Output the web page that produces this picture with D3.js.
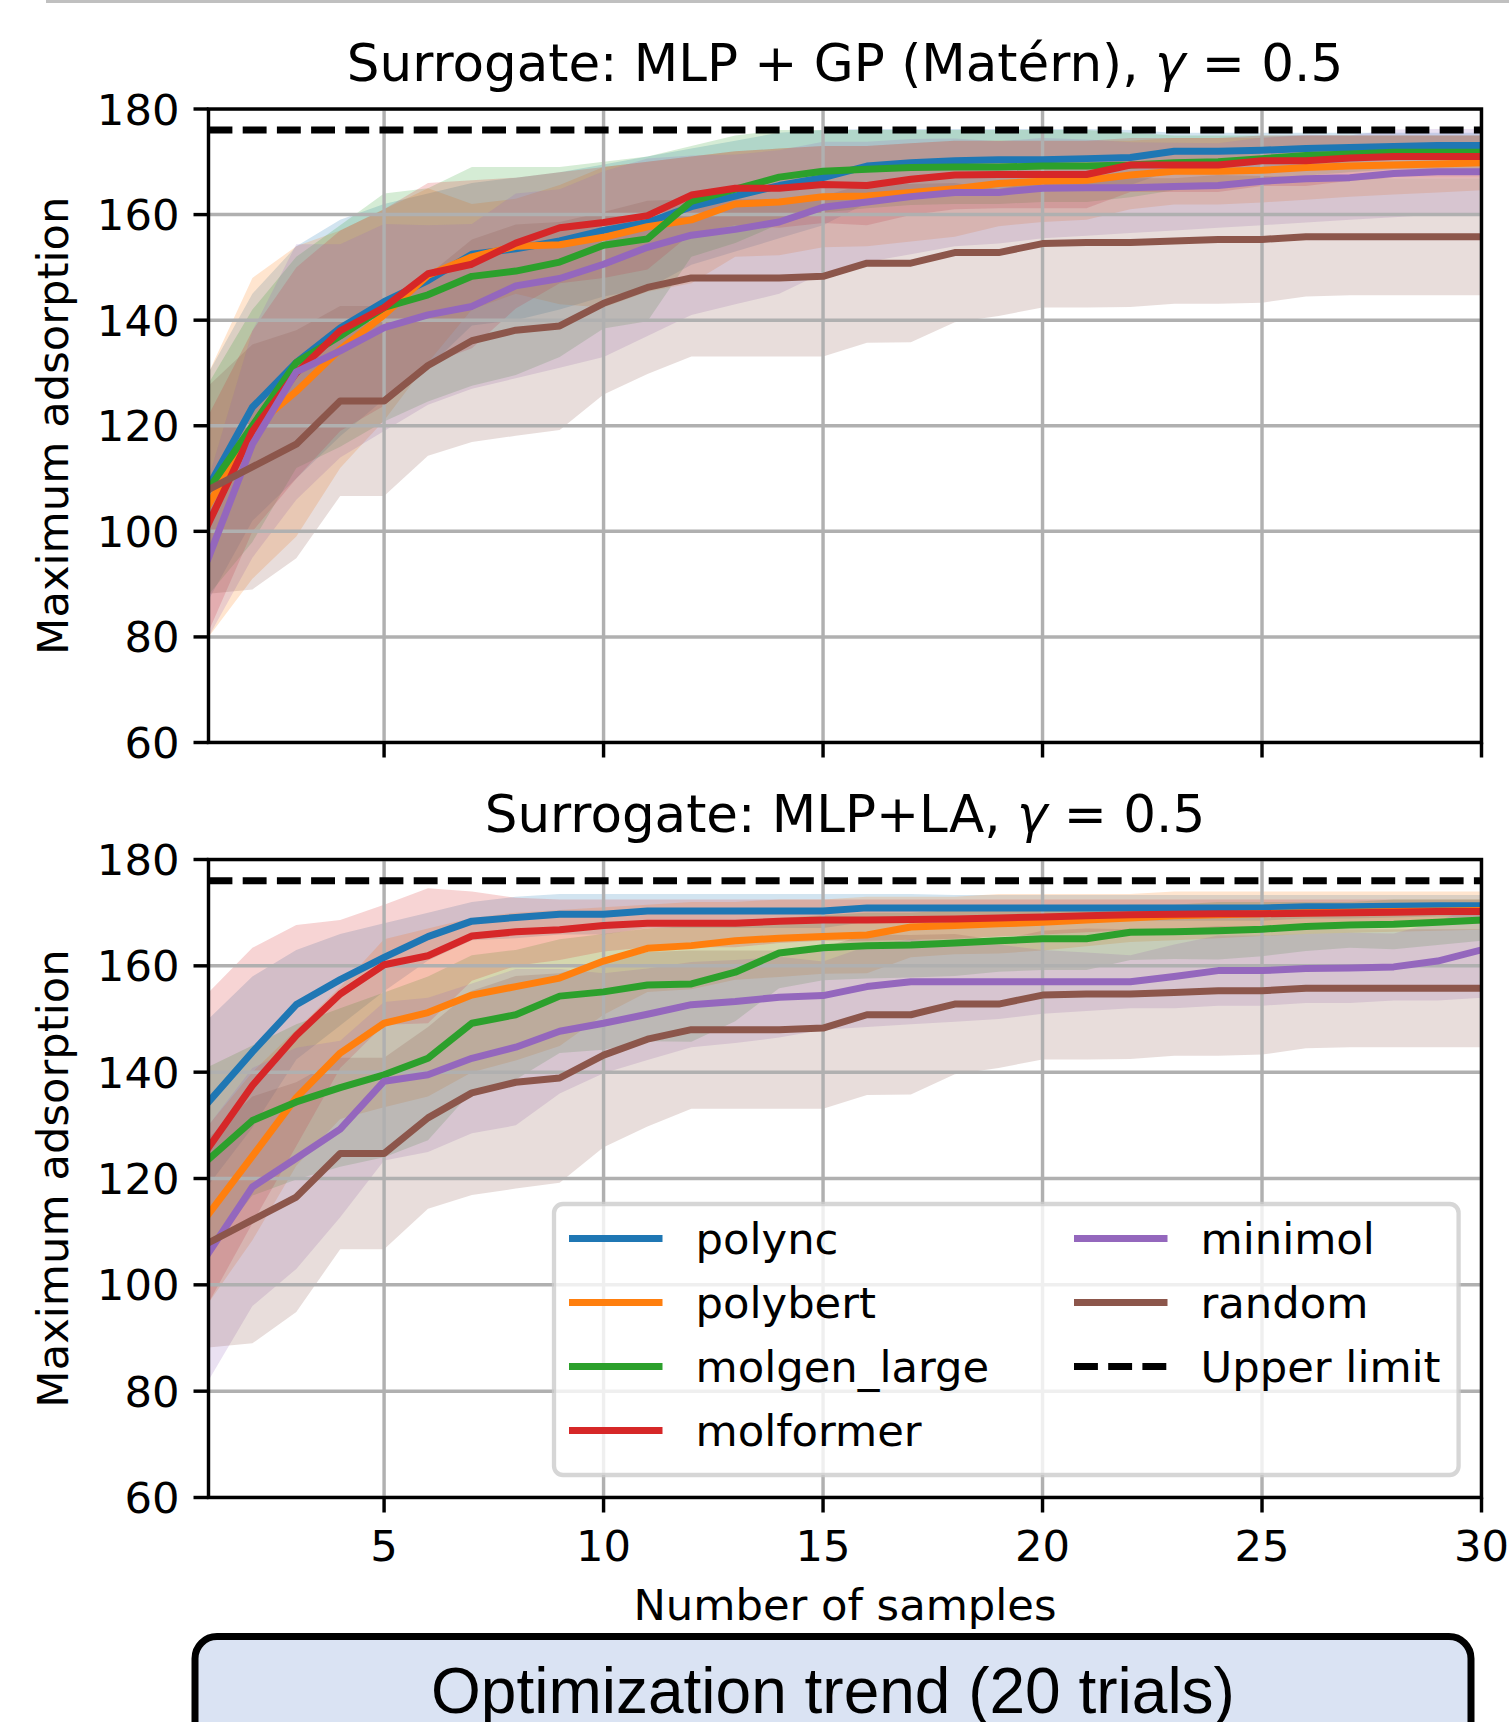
<!DOCTYPE html>
<html><head><meta charset="utf-8">
<script src="https://cdn.jsdelivr.net/npm/d3@7"></script>
<style>body{margin:0;background:#fff}svg{display:block}</style>
</head><body>
<svg id="chart" width="1509" height="1722"></svg>
<script>
// ---------------- data ----------------
const samples = [1,2,3,4,5,6,7,8,9,10,11,12,13,14,15,16,17,18,19,20,21,22,23,24,25,26,27,28,29,30];
const seriesNames = ["polync","polybert","molgen_large","molformer","minimol","random"];
const seriesColors = ["#1f77b4","#ff7f0e","#2ca02c","#d62728","#9467bd","#8c564b"];
const upperLimit = 176;
const yTicks = [60,80,100,120,140,160,180];
const xTicks = [5,10,15,20,25,30];
const panelTitles = ["Surrogate: MLP + GP (Matérn), ", "Surrogate: MLP+LA, "];

// Panel 1: MLP + GP (Matérn)  — mean and shaded band (lo / hi)
const gpPolyncMean = [108.5,123.5,132,138.5,143.5,147.5,152.5,153.5,155,157,158.5,161.5,163.5,165.5,167,169.2,169.8,170.2,170.4,170.4,170.6,170.8,172,172,172.2,172.5,172.7,172.9,173.1,173.1];
const gpPolyncLo = [87,102,110,118,125,131,139,140,142,144.5,146,150.5,153,155.5,158,162.2,163.4,164.2,164.6,164.6,165,165.6,168.5,168.5,168.9,169.5,169.9,170.3,170.7,170.7];
const gpPolyncHi = [130,145,154,159,162,164,166,167,168,169.5,171,172.5,174,175.5,176,176.2,176.2,176.2,176.2,176.2,176.2,176,175.5,175.5,175.5,175.5,175.5,175.5,175.5,175.5];

const gpPolybertMean = [105,119.5,126.5,134.5,141,148.5,152,154,154.3,155.7,157.7,159,162,162.4,163.4,163.5,164.2,164.9,165.9,166.3,166.5,167.5,168.2,168.2,168.4,168.9,169.2,169.4,169.6,169.8];
const gpPolybertLo = [80,91,99,112,121,132,142,145,143,142.4,145.4,147,152,152.3,153.8,154,154.9,155.8,157.8,158.6,159,161,161.9,161.9,162.3,162.8,163.4,163.8,164.2,164.6];
const gpPolybertHi = [130,148,154,157,161,165,162,163,165.6,169,170,171,172,172.5,173,173,173.5,174,174,174,174,174,174.5,174.5,174.5,175,175,175,175,175];

const gpMolgenMean = [108,120,132,137,142.4,144.8,148.3,149.3,151,154.2,155.4,162.5,164.8,167.1,168.2,168.6,168.9,169,169,169.2,169.2,169.4,169.8,170,170.6,171.2,171.5,171.8,171.8,171.8];
const gpMolgenLo = [88,98,112,116,120.8,124.6,127.6,129.6,133,138.4,139.8,152,154.6,158.2,160.4,161.2,161.8,162,162,162.4,162.4,163.3,164.6,165,166.2,167.4,168,168.6,168.6,168.6];
const gpMolgenHi = [128,142,152,158,164,165,169,169,169,170,171,173,175,176,176,176,176,176,176,176,176,175.5,175,175,175,175,175,175,175,175];

const gpMolformerMean = [101.5,119,130,138,142.4,148.8,150.6,154.6,157.5,158.5,159.8,163.7,165,165,165.7,165.5,166.7,167.5,167.6,167.6,167.6,169.4,169.4,169.4,170.2,170.2,170.7,171,171,171];
const gpMolformerLo = [81,100,110,119,123.8,131.6,134.7,142.2,147,148,149.6,156.4,158,157.5,158.4,158,159.9,161,161.2,161.2,161.2,164.3,164.3,164.3,165.4,165.4,166.4,167,167,167];
const gpMolformerHi = [122,138,150,157,161,166,166.5,167,168,169,170,171,172,172.5,173,173,173.5,174,174,174,174,174.5,174.5,174.5,175,175,175,175,175,175];

const gpMinimolMean = [95,116.5,130.2,134.2,138.6,141,142.6,146.5,147.9,150.6,153.8,156.1,157.2,158.6,161.4,162.4,163.4,164.2,164.2,165,165.1,165.1,165.3,165.5,166.3,166.8,167,167.8,168.1,168.1];
const gpMinimolLo = [80,95,106,114,119,124,127,129,131,133,137,141,143,145,149,151,152.5,154,154.5,155.5,156,156.5,157,157.5,158,158.5,159,159.5,160,160];
const gpMinimolHi = [110,138,154.4,154.4,158.2,158,158.2,164,164.8,168.2,170.6,171.2,171.4,172.2,173.8,173.8,174.3,174.4,173.9,174.5,174.2,173.7,173.6,173.5,174.6,175.1,175,176.1,176.2,176.2];

// random baseline (identical in both panels)
const randomMean = [107.9,112.2,116.5,124.7,124.7,131.4,136.1,138.1,138.9,143.2,146.2,148,148,148,148.3,150.8,150.8,152.8,152.8,154.5,154.7,154.7,155,155.3,155.3,155.8,155.8,155.8,155.8,155.8];
const randomLo = [88.2,89,94.9,106.7,106.7,114.3,116.9,118.1,119.2,125.9,129.8,133.1,133.1,133.1,133.1,135.7,135.8,139.6,140.8,142.4,142.4,142.5,143.1,143.1,143.3,144.5,144.7,144.7,144.7,144.7];
const randomHi = [127.6,135.4,138.1,142.7,142.7,148.5,155.3,158.1,158.6,160.5,162.6,162.9,162.9,162.9,163.5,165.9,165.8,166,164.8,166.6,167,166.9,166.9,167.5,167.3,167.1,166.9,166.9,166.9,166.9];

// Panel 2: MLP + LA
const laPolyncMean = [134.4,143.8,152.7,157.4,161.6,165.5,168.4,169.1,169.7,169.7,170.3,170.3,170.3,170.3,170.3,170.9,170.9,170.9,170.9,170.9,170.9,170.9,170.9,170.9,170.9,171.1,171.1,171.2,171.3,171.3];
const laPolyncLo = [118.8,129.6,142.4,148.8,155.2,161,164.8,165.2,165.9,165.9,167.1,167.1,167.1,167.1,167.1,168.3,168.3,168.5,168.5,168.5,168.5,168.5,168.5,168.5,168.5,168.9,168.9,169.1,169.3,169.3];
const laPolyncHi = [150,158,163,166,168,170,172,173,173.5,173.5,173.5,173.5,173.5,173.5,173.5,173.5,173.5,173.3,173.3,173.3,173.3,173.3,173.3,173.3,173.3,173.3,173.3,173.3,173.3,173.3];

const laPolybertMean = [113.3,124.2,135.2,143.6,149.2,151.2,154.5,156.1,157.7,160.9,163.3,163.8,164.7,165.2,165.5,165.8,167.3,167.6,167.9,168.2,168.6,169,169.4,169.6,169.8,170,170.1,170.2,170.3,170.4];
const laPolybertLo = [96.6,108.4,122.4,131.2,133.4,135.4,140,142.2,144.9,150.8,155.1,155.6,157.4,157.9,158.5,158.6,161.6,162.2,162.3,162.9,163.7,164.5,164.8,165.2,165.6,166,166.2,166.4,166.6,166.8];
const laPolybertHi = [130,140,148,156,165,167,169,170,170.5,171,171.5,172,172,172.5,172.5,173,173,173,173.5,173.5,173.5,173.5,174,174,174,174,174,174,174,174];

const laMolgenMean = [123.6,130.9,134.4,137.1,139.5,142.6,149.2,150.8,154.3,155.1,156.4,156.6,158.8,162.4,163.4,163.8,163.9,164.3,164.7,165.1,165.1,166.3,166.4,166.6,166.9,167.4,167.7,167.8,168.2,168.6];
const laMolgenLo = [106.2,116.8,119.8,122.2,124,127.2,136.4,138.6,143.6,144.2,145.8,145.7,149.6,155.8,157.3,157.6,157.8,158.1,158.9,159.2,159.2,161.1,161.3,161.2,161.8,162.8,163.4,163.1,163.9,164.7];
const laMolgenHi = [141,145,149,152,155,158,162,163,165,166,167,167.5,168,169,169.5,170,170,170.5,170.5,171,171,171.5,171.5,172,172,172,172,172.5,172.5,172.5];

const laMolformerMean = [125.8,137.5,146.9,154.7,160.2,161.9,165.6,166.4,166.8,167.6,168,168,168,168.4,168.6,168.6,168.7,168.8,169,169.2,169.4,169.6,169.7,169.8,169.8,169.9,170,170.1,170.2,170.2];
const laMolformerLo = [96.6,111.6,126.1,140.8,148.9,149.2,157.2,160,161.1,162.7,163.5,163.5,163.5,164.3,164.7,164.7,164.9,165.1,165.5,165.9,166.3,166.7,166.9,167.1,167.1,167.3,167.5,167.7,167.9,167.9];
const laMolformerHi = [155,163.4,167.7,168.6,171.5,174.6,174,172.8,172.5,172.5,172.5,172.5,172.5,172.5,172.5,172.5,172.5,172.5,172.5,172.5,172.5,172.5,172.5,172.5,172.5,172.5,172.5,172.5,172.5,172.5];

const laMinimolMean = [106,118.4,123.8,129.3,138.3,139.5,142.6,144.7,147.7,149.2,150.9,152.7,153.3,154.1,154.4,156.1,157,157,157,157,157,157,158,159.1,159.1,159.5,159.6,159.8,160.9,163];
const laMinimolLo = [82,96,103,112.7,123.4,125,128.5,130,136,139.8,142.3,144.7,145.5,146.5,148,148.5,149,149.5,150,151,151.5,152,152,152.5,152.5,153,153,153.5,153.5,154];
const laMinimolHi = [130,140.8,144.6,145.9,153.2,154,156.7,159.4,159.4,158.6,159.5,160.7,161.1,161.7,160.8,163.7,165,164.5,164,163,162.5,162,164,165.7,165.7,166,166.2,166.1,168.3,172];

// ---------------- build ----------------
const panels = [
  { title: panelTitles[0], top: 109, bottom: 742.5, xLabels: false,
    means: [gpPolyncMean, gpPolybertMean, gpMolgenMean, gpMolformerMean, gpMinimolMean, randomMean],
    los:   [gpPolyncLo, gpPolybertLo, gpMolgenLo, gpMolformerLo, gpMinimolLo, randomLo],
    his:   [gpPolyncHi, gpPolybertHi, gpMolgenHi, gpMolformerHi, gpMinimolHi, randomHi] },
  { title: panelTitles[1], top: 859.5, bottom: 1497.5, xLabels: true,
    means: [laPolyncMean, laPolybertMean, laMolgenMean, laMolformerMean, laMinimolMean, randomMean],
    los:   [laPolyncLo, laPolybertLo, laMolgenLo, laMolformerLo, laMinimolLo, randomLo],
    his:   [laPolyncHi, laPolybertHi, laMolgenHi, laMolformerHi, laMinimolHi, randomHi] }
];

const FONT = "'DejaVu Sans', sans-serif";
const LEFT = 208.5, RIGHT = 1481.5;
const LW = 7, SPINE = 3.44, TICK = 15, PAD = 15, FS = 43.3, TFS = 51.5;

const svg = d3.select("#chart");
svg.append("rect").attr("width",1509).attr("height",1722).attr("fill","#fff");
svg.append("rect").attr("x",46).attr("y",0).attr("width",1463).attr("height",3).attr("fill","#c0c0c0");

const x = d3.scaleLinear().domain([1,30]).range([LEFT, RIGHT]);

panels.forEach((p, pi) => {
  const y = d3.scaleLinear().domain([60,180]).range([p.bottom, p.top]);
  const g = svg.append("g");
  const clipId = "clip" + pi;
  svg.append("clipPath").attr("id", clipId).append("rect")
    .attr("x", LEFT).attr("y", p.top).attr("width", RIGHT-LEFT).attr("height", p.bottom-p.top);
  const plot = g.append("g").attr("clip-path", `url(#${clipId})`);

  // bands
  const area = d3.area().x((d,i)=>x(samples[i])).y0(d=>y(d[0])).y1(d=>y(d[1]));
  seriesNames.forEach((n, si) => {
    const pts = p.los[si].map((v,i)=>[v, p.his[si][i]]);
    plot.append("path").attr("d", area(pts)).attr("fill", seriesColors[si]).attr("fill-opacity", 0.2);
  });

  // grid
  xTicks.forEach(t => plot.append("line").attr("x1",x(t)).attr("x2",x(t)).attr("y1",p.top).attr("y2",p.bottom)
    .attr("stroke","#b0b0b0").attr("stroke-width",SPINE));
  yTicks.forEach(t => plot.append("line").attr("x1",LEFT).attr("x2",RIGHT).attr("y1",y(t)).attr("y2",y(t))
    .attr("stroke","#b0b0b0").attr("stroke-width",SPINE));

  // lines
  const line = d3.line().x((d,i)=>x(samples[i])).y(d=>y(d));
  seriesNames.forEach((n, si) => {
    plot.append("path").attr("d", line(p.means[si])).attr("fill","none")
      .attr("stroke", seriesColors[si]).attr("stroke-width", LW)
      .attr("stroke-linejoin","round").attr("stroke-linecap","square");
  });
  // upper limit
  plot.append("line").attr("x1",LEFT).attr("x2",RIGHT).attr("y1",y(upperLimit)).attr("y2",y(upperLimit))
    .attr("stroke","#000").attr("stroke-width",LW).attr("stroke-dasharray","23.9 10.3");

  // spines
  g.append("rect").attr("x",LEFT).attr("y",p.top).attr("width",RIGHT-LEFT).attr("height",p.bottom-p.top)
    .attr("fill","none").attr("stroke","#000").attr("stroke-width",SPINE);

  // y ticks
  yTicks.forEach(t => {
    g.append("line").attr("x1",LEFT).attr("x2",LEFT-TICK).attr("y1",y(t)).attr("y2",y(t))
      .attr("stroke","#000").attr("stroke-width",SPINE);
    g.append("text").attr("x",LEFT-TICK-PAD+1).attr("y",y(t)+15.5).attr("text-anchor","end")
      .attr("font-family",FONT).attr("font-size",FS).text(t);
  });
  // x ticks
  xTicks.forEach(t => {
    g.append("line").attr("x1",x(t)).attr("x2",x(t)).attr("y1",p.bottom).attr("y2",p.bottom+TICK)
      .attr("stroke","#000").attr("stroke-width",SPINE);
    if (p.xLabels) g.append("text").attr("x",x(t)).attr("y",p.bottom+TICK+PAD+33).attr("text-anchor","middle")
      .attr("font-family",FONT).attr("font-size",FS).text(t);
  });

  // y label
  g.append("text").attr("transform",`translate(67.5,${(p.top+p.bottom)/2}) rotate(-90)`)
    .attr("text-anchor","middle").attr("font-family",FONT).attr("font-size",FS).text("Maximum adsorption");

  // title
  const tt = g.append("text").attr("x",(LEFT+RIGHT)/2).attr("y",p.top-28).attr("text-anchor","middle")
    .attr("font-family",FONT).attr("font-size",TFS);
  tt.append("tspan").text(p.title);
  tt.append("tspan").attr("font-style","italic").text("γ");
  tt.append("tspan").text(" = 0.5");

  if (p.xLabels) {
    g.append("text").attr("x",(LEFT+RIGHT)/2).attr("y",1620).attr("text-anchor","middle")
      .attr("font-family",FONT).attr("font-size",FS).text("Number of samples");

    // legend
    const lg = g.append("g");
    lg.append("rect").attr("x",554).attr("y",1204).attr("width",904.6).attr("height",271).attr("rx",9)
      .attr("fill","#fff").attr("fill-opacity",0.8).attr("stroke","#cccccc").attr("stroke-opacity",0.8).attr("stroke-width",4.3);
    const entries = seriesNames.map((n,i)=>({name:n, color:seriesColors[i], dash:null}));
    entries.push({name:"Upper limit", color:"#000", dash:"23.9 10.3"});
    entries.forEach((e, i) => {
      const col = i < 4 ? 0 : 1;
      const row = i < 4 ? i : i - 4;
      const hx = col === 0 ? 569 : 1074;
      const ty = 1238.5 + row * 64;
      lg.append("line").attr("x1",hx).attr("x2",hx+93.5).attr("y1",ty).attr("y2",ty)
        .attr("stroke",e.color).attr("stroke-width",LW).attr("stroke-dasharray",e.dash);
      lg.append("text").attr("x",hx+126.5).attr("y",ty+15).attr("font-family",FONT).attr("font-size",FS).text(e.name);
    });
  }
});

// bottom caption box
svg.append("rect").attr("x",195).attr("y",1636.5).attr("width",1276).attr("height",160).attr("rx",22)
  .attr("fill","#dae3f3").attr("stroke","#000").attr("stroke-width",7);
svg.append("text").attr("x",833).attr("y",1713).attr("text-anchor","middle")
  .attr("font-family","'Liberation Sans', Arial, sans-serif").attr("font-size",64).text("Optimization trend (20 trials)");
</script>
</body></html>
